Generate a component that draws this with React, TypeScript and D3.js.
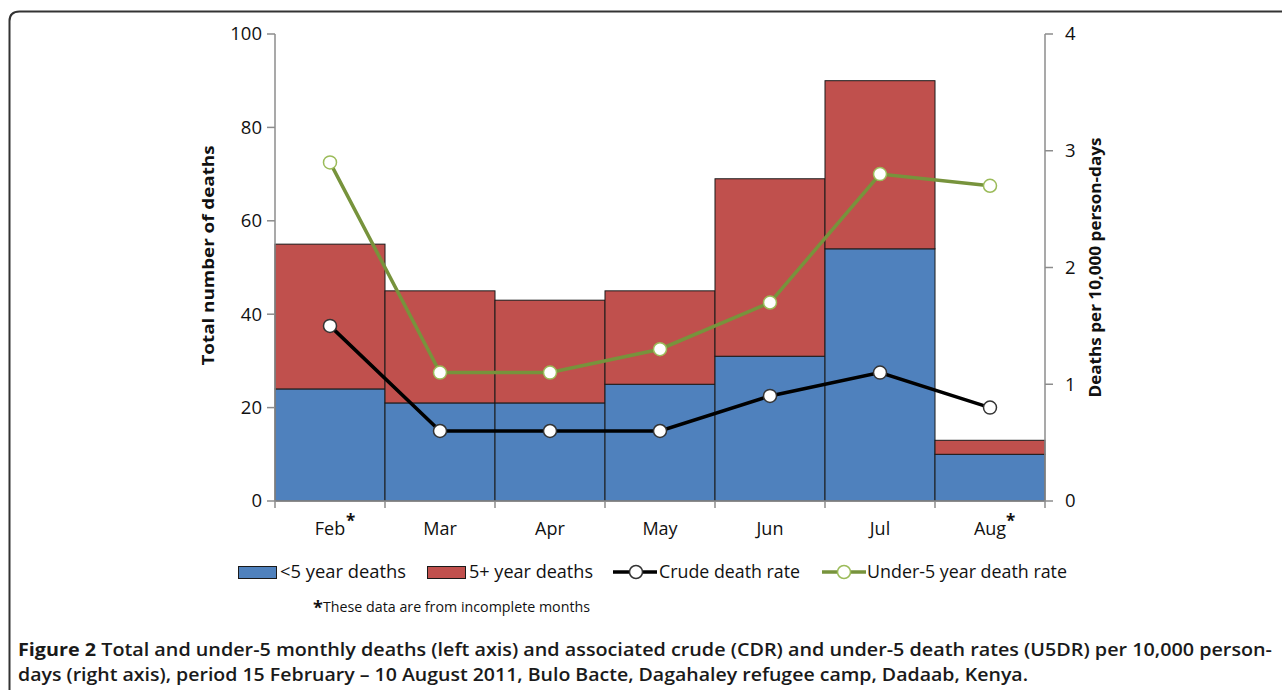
import React from "react";
import * as d3 from "d3";

const months = ["Feb", "Mar", "Apr", "May", "Jun", "Jul", "Aug"];
const incomplete = [true, false, false, false, false, false, true];
const under5Deaths = [24, 21, 21, 25, 31, 54, 10];
const over5Deaths = [31, 24, 22, 20, 38, 36, 3];
const crudeDeathRate = [1.5, 0.6, 0.6, 0.6, 0.9, 1.1, 0.8];
const under5DeathRate = [2.9, 1.1, 1.1, 1.3, 1.7, 2.8, 2.7];
const leftTicks = [0, 20, 40, 60, 80, 100];
const rightTicks = [0, 1, 2, 3, 4];

const BLUE = "#4F81BD";
const RED = "#C0504D";
const GREEN = "#77933C";
const GREEN_LIGHT = "#9BBB59";
const AXIS = "#8C8C8C";
const FONT = "'Open Sans', sans-serif";
const CAP_FONT = "'Open Sans', sans-serif";

export default function App() {
  const left = 275, right = 1045, top = 34, bottom = 501;
  const x = d3.scaleBand<string>().domain(months).range([left, right]).padding(0);
  const yL = d3.scaleLinear().domain([0, 100]).range([bottom, top]);
  const yR = d3.scaleLinear().domain([0, 4]).range([bottom, top]);
  const bw = x.bandwidth();
  const cx = (m: string) => (x(m) as number) + bw / 2;

  const line = d3
    .line<number>()
    .x((_, i) => cx(months[i]))
    .y((d) => yR(d));

  return (
    <svg
      width={1282}
      height={690}
      style={{ position: "absolute", left: 0, top: 0, background: "#fff" }}
    >
      {/* frame */}
      <path
        d="M9.5,700 L9.5,21 Q9.5,11.5 19.5,11.5 L1300,11.5"
        fill="none"
        stroke="#333"
        strokeWidth={2}
      />

      {/* bars */}
      {months.map((m, i) => {
        const x0 = x(m) as number;
        const u = under5Deaths[i];
        const o = over5Deaths[i];
        return (
          <g key={m}>
            <rect
              x={x0}
              y={yL(u)}
              width={bw}
              height={yL(0) - yL(u)}
              fill={BLUE}
              stroke="#1a1a1a"
              strokeWidth={1}
            />
            <rect
              x={x0}
              y={yL(u + o)}
              width={bw}
              height={yL(u) - yL(u + o)}
              fill={RED}
              stroke="#1a1a1a"
              strokeWidth={1}
            />
          </g>
        );
      })}

      {/* left axis */}
      <line x1={left} x2={left} y1={top} y2={bottom} stroke={AXIS} strokeWidth={1.5} />
      {leftTicks.map((t) => (
        <g key={t}>
          <line x1={left - 8} x2={left} y1={yL(t)} y2={yL(t)} stroke={AXIS} strokeWidth={1.5} />
          <text
            x={left - 13}
            y={yL(t)}
            dy="0.35em"
            textAnchor="end"
            fontFamily={FONT}
            fontSize={18.5}
            fill="#111"
          >
            {t}
          </text>
        </g>
      ))}
      <text
        transform={`translate(214,${(top + bottom) / 2 - 12}) rotate(-90)`}
        textAnchor="middle"
        fontFamily={FONT}
        fontWeight="bold"
        fontSize={16}
        fill="#111"
        textLength={220}
        lengthAdjust="spacingAndGlyphs"
      >
        Total number of deaths
      </text>

      {/* right axis */}
      <line x1={right} x2={right} y1={top} y2={bottom} stroke={AXIS} strokeWidth={1.5} />
      {rightTicks.map((t) => (
        <g key={t}>
          <line x1={right} x2={right + 8} y1={yR(t)} y2={yR(t)} stroke={AXIS} strokeWidth={1.5} />
          <text
            x={right + 20}
            y={yR(t)}
            dy="0.35em"
            textAnchor="start"
            fontFamily={FONT}
            fontSize={18.5}
            fill="#111"
          >
            {t}
          </text>
        </g>
      ))}
      <text
        transform={`translate(1101,${(top + bottom) / 2}) rotate(-90)`}
        textAnchor="middle"
        fontFamily={FONT}
        fontWeight="bold"
        fontSize={16}
        fill="#111"
        textLength={260}
        lengthAdjust="spacingAndGlyphs"
      >
        Deaths per 10,000 person-days
      </text>

      {/* x axis */}
      <line x1={left} x2={right} y1={bottom} y2={bottom} stroke={AXIS} strokeWidth={1.5} />
      {months.map((m) => (
        <line
          key={"t" + m}
          x1={x(m) as number}
          x2={x(m) as number}
          y1={bottom}
          y2={bottom + 7}
          stroke={AXIS}
          strokeWidth={1.5}
        />
      ))}
      <line x1={right} x2={right} y1={bottom} y2={bottom + 7} stroke={AXIS} strokeWidth={1.5} />
      {months.map((m, i) => (
        <g key={"l" + m}>
          <text
            x={cx(m)}
            y={535}
            textAnchor="middle"
            fontFamily={FONT}
            fontSize={18}
            fill="#111"
          >
            {m}
          </text>
          {incomplete[i] ? (
            <text
              x={cx(m) + 16}
              y={527}
              fontFamily={FONT}
              fontSize={17}
              fontWeight="bold"
              fill="#111"
            >
              *
            </text>
          ) : null}
        </g>
      ))}

      {/* lines */}
      <path d={line(under5DeathRate) || ""} fill="none" stroke={GREEN} strokeWidth={3.5} />
      <path d={line(crudeDeathRate) || ""} fill="none" stroke="#000" strokeWidth={3.5} />
      {under5DeathRate.map((v, i) => (
        <circle
          key={"g" + i}
          cx={cx(months[i])}
          cy={yR(v)}
          r={6.5}
          fill="#fff"
          stroke={GREEN_LIGHT}
          strokeWidth={1.5}
        />
      ))}
      {crudeDeathRate.map((v, i) => (
        <circle
          key={"c" + i}
          cx={cx(months[i])}
          cy={yR(v)}
          r={6.5}
          fill="#fff"
          stroke="#333"
          strokeWidth={1.5}
        />
      ))}

      {/* legend */}
      <g fontFamily={FONT} fontSize={17.5} fill="#111">
        <rect x={238.5} y={566.5} width={38} height={12} fill={BLUE} stroke="#1a1a1a" strokeWidth={1} />
        <text x={280} y={578} textLength={126} lengthAdjust="spacingAndGlyphs">&lt;5 year deaths</text>
        <rect x={427.5} y={566.5} width={38} height={12} fill={RED} stroke="#1a1a1a" strokeWidth={1} />
        <text x={469} y={578} textLength={124} lengthAdjust="spacingAndGlyphs">5+ year deaths</text>
        <line x1={613} x2={657} y1={572} y2={572} stroke="#000" strokeWidth={3.5} />
        <circle cx={636} cy={572} r={6.5} fill="#fff" stroke="#333" strokeWidth={1.5} />
        <text x={659} y={578} textLength={141} lengthAdjust="spacingAndGlyphs">Crude death rate</text>
        <line x1={822} x2={866} y1={572} y2={572} stroke={GREEN} strokeWidth={3.5} />
        <circle cx={844} cy={572} r={6.5} fill="#fff" stroke={GREEN_LIGHT} strokeWidth={1.5} />
        <text x={867} y={578} textLength={200} lengthAdjust="spacingAndGlyphs">Under-5 year death rate</text>
      </g>

      {/* footnote */}
      <text x={313} y={614} fontFamily={FONT} fontSize={18} fontWeight="bold" fill="#111">*</text>
      <text x={323} y={612} fontFamily={FONT} fontSize={14} fill="#111" textLength={267} lengthAdjust="spacingAndGlyphs">
        These data are from incomplete months
      </text>

      {/* caption */}
      <g fontFamily={CAP_FONT} fontSize={18} fontWeight={600} fill="#1a1a1a">
        <text x={18} y={656} textLength={1254} lengthAdjust="spacingAndGlyphs">
          <tspan fontWeight="bold">Figure 2</tspan>
          <tspan> Total and under-5 monthly deaths (left axis) and associated crude (CDR) and under-5 death rates (U5DR) per 10,000 person-</tspan>
        </text>
        <text x={18} y={681} textLength={1010} lengthAdjust="spacingAndGlyphs">
          days (right axis), period 15 February – 10 August 2011, Bulo Bacte, Dagahaley refugee camp, Dadaab, Kenya.
        </text>
      </g>
    </svg>
  );
}
